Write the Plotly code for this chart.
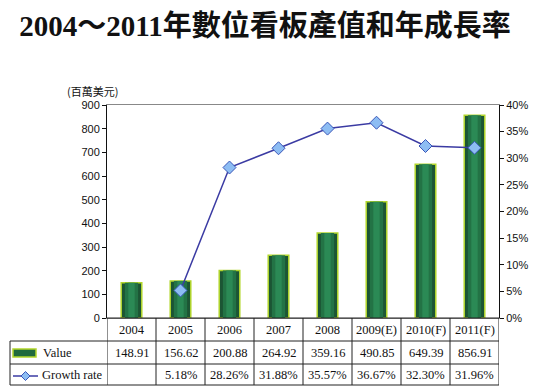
import plotly.graph_objects as go

categories = ["2004", "2005", "2006", "2007", "2008", "2009(E)", "2010(F)", "2011(F)"]
values = [148.91, 156.62, 200.88, 264.92, 359.16, 490.85, 649.39, 856.91]
growth = [None, 5.18, 28.26, 31.88, 35.57, 36.67, 32.30, 31.96]
value_labels = ["148.91", "156.62", "200.88", "264.92", "359.16", "490.85", "649.39", "856.91"]
growth_labels = ["", "5.18%", "28.26%", "31.88%", "35.57%", "36.67%", "32.30%", "31.96%"]
row_names = ["Value", "Growth rate"]

W, H = 550, 390
L, R, T, B = 107, 499, 105, 318


def px2x(px):
    return (px - L) / (R - L)


def py2y(py):
    return (B - py) / (B - T)


fig = go.Figure()

# bars (layered for a simple gradient look)
fig.add_trace(go.Bar(x=categories, y=values, width=0.42, marker=dict(color="#1c5534", line=dict(color="#b2d62c", width=1.5)),
                     showlegend=False, hoverinfo="skip"))
fig.add_trace(go.Bar(x=categories, y=values, width=0.27, marker=dict(color="#237345", line=dict(width=0)),
                     showlegend=False, hoverinfo="skip"))
fig.add_trace(go.Bar(x=categories, y=values, width=0.13, marker=dict(color="#2b8a55", line=dict(width=0)),
                     showlegend=False, name="Value"))

fig.add_trace(go.Scatter(x=categories, y=growth, yaxis="y2", mode="lines+markers",
                         line=dict(color="#3b3ba3", width=1.5),
                         marker=dict(symbol="diamond", size=10, color="#8dbdf3", line=dict(color="#3a56b8", width=1)),
                         showlegend=False, name="Growth rate", connectgaps=False))

shapes = []
ann = []
line_c = "#222222"
y_rows = [py2y(341), py2y(364), py2y(385)]
# horizontal table lines
shapes.append(dict(type="line", xref="paper", yref="paper", x0=0, x1=1, y0=0, y1=0, line=dict(color=line_c, width=1)))
for yy in y_rows:
    shapes.append(dict(type="line", xref="paper", yref="paper", x0=px2x(10), x1=1, y0=yy, y1=yy,
                       line=dict(color=line_c, width=1)))
# vertical lines
for i in range(len(categories) + 1):
    shapes.append(dict(type="line", xref="x", yref="paper", x0=i - 0.5, x1=i - 0.5, y0=0, y1=y_rows[-1],
                       line=dict(color=line_c, width=1)))
shapes.append(dict(type="line", xref="paper", yref="paper", x0=px2x(10), x1=px2x(10), y0=y_rows[0], y1=y_rows[-1],
                   line=dict(color=line_c, width=1)))

# legend icons inside table
shapes.append(dict(type="rect", xref="paper", yref="paper", x0=px2x(13), x1=px2x(36), y0=py2y(357), y1=py2y(349),
                   fillcolor="#1f6a3e", line=dict(color="#b2d62c", width=1.5)))
shapes.append(dict(type="line", xref="paper", yref="paper", x0=px2x(13), x1=px2x(38), y0=py2y(376), y1=py2y(376),
                   line=dict(color="#3b3ba3", width=1.5)))
cx, cy, d = 25.5, 376, 4.5
path = "M {} {} L {} {} L {} {} L {} {} Z".format(
    px2x(cx), py2y(cy - d), px2x(cx + d), py2y(cy), px2x(cx), py2y(cy + d), px2x(cx - d), py2y(cy))
shapes.append(dict(type="path", xref="paper", yref="paper", path=path, fillcolor="#8dbdf3",
                   line=dict(color="#3a56b8", width=1)))

tfont = dict(family="Liberation Serif, Times New Roman, serif", size=12.5, color="#111111")
for i, (c, v, g) in enumerate(zip(categories, value_labels, growth_labels)):
    for txt, py in ((c, 330), (v, 353), (g, 375)):
        ann.append(dict(x=i, y=py2y(py), xref="x", yref="paper", text=txt, showarrow=False, font=tfont,
                        xanchor="center", yanchor="middle"))
ann.append(dict(x=px2x(41), y=py2y(353), xref="paper", yref="paper", text=row_names[0], showarrow=False,
                xanchor="left", yanchor="middle", font=tfont))
ann.append(dict(x=px2x(40), y=py2y(375), xref="paper", yref="paper", text=row_names[1], showarrow=False,
                xanchor="left", yanchor="middle", font=tfont))
ann.append(dict(x=px2x(92), y=py2y(91), xref="paper", yref="paper", text="(百萬美元)", showarrow=False,
                xanchor="center", yanchor="middle",
                font=dict(family="Noto Sans CJK TC, sans-serif", size=11, color="#111111")))

afont = dict(family="Liberation Sans, Arial, sans-serif", size=11, color="#111111")
fig.update_layout(
    width=W, height=H,
    margin=dict(l=L, r=W - R, t=T, b=H - B, pad=0),
    paper_bgcolor="white", plot_bgcolor="white",
    barmode="overlay",
    title=dict(text="<b>2004～2011年數位看板產值和年成長率</b>", x=265 / W, xanchor="center",
               y=1 - 26 / H, yanchor="middle",
               font=dict(family="Liberation Serif, Noto Sans CJK TC, serif", size=29, color="#111111")),
    xaxis=dict(type="category", range=[-0.5, 7.5], showticklabels=False, ticks="", showgrid=False,
               showline=True, mirror=True, linecolor="#888888", linewidth=1, zeroline=False),
    yaxis=dict(range=[0, 900], dtick=100, ticks="outside", ticklen=4, tickcolor="#111111",
               showline=True, linecolor="#111111", linewidth=1, showgrid=False, zeroline=False,
               tickfont=afont),
    yaxis2=dict(range=[0, 40], dtick=5, ticksuffix="%", overlaying="y", side="right", ticks="outside",
                ticklen=4, tickcolor="#111111", showline=True, linecolor="#111111", linewidth=1,
                showgrid=False, zeroline=False, tickfont=afont),
    shapes=shapes, annotations=ann, showlegend=False,
)

fig.write_html("out.html", config={"displayModeBar": False},
               post_script="document.body.style.margin='0px';")
